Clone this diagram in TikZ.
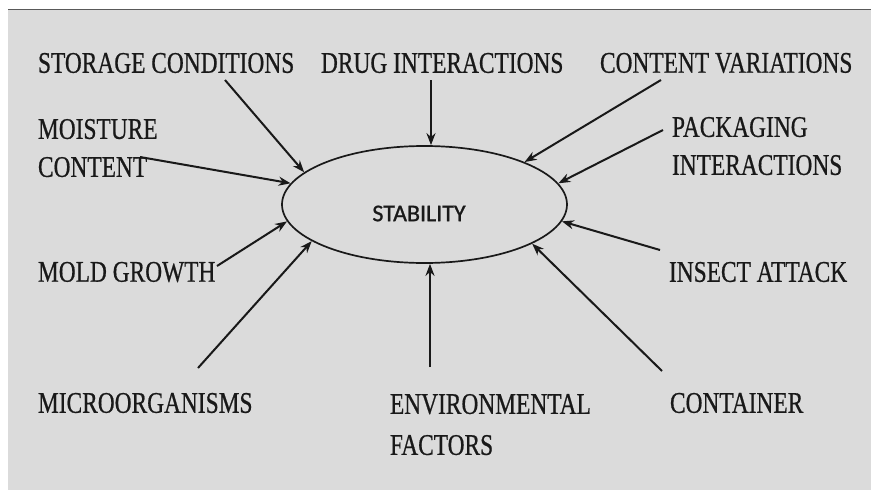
\documentclass[tikz,border=0pt]{standalone}
\usepackage{fontspec}
\setmainfont{Liberation Serif}[FakeStretch=0.78,FakeBold=0.6]
\newfontfamily\stabfont{Carlito}[FakeBold=1]
\usetikzlibrary{arrows.meta,shapes.geometric}
\definecolor{bggray}{RGB}{219,219,219}
\definecolor{inkgray}{RGB}{25,25,25}

\begin{document}
\begin{tikzpicture}[x=1pt,y=-1pt,->,>={Stealth[length=12pt,width=9pt]},line width=2pt,color=inkgray]
      \tikzstyle{factor}=[inner sep=0pt,text=inkgray,align=left,font=\fontsize{30}{38}\selectfont]
      \tikzstyle{centre}=[ellipse,draw,line width=1.7pt,minimum width=285pt,minimum height=117pt,inner sep=0pt]

      \useasboundingbox (0,0) rectangle (871,490);
      \fill[bggray] (8,9) rectangle (871,490);
      \draw[-,line width=1pt,gray!70!black] (8,9) -- (871,9);

      \node[centre] (stab) at (424.5,204.5) {};
      \node[inner sep=0pt,font=\stabfont\fontsize{24}{26}\selectfont] (stablbl) at (419,213.5) {STABILITY};

      \node[factor,anchor=west] (storage) at (37,63) {STORAGE CONDITIONS};
      \node[factor,anchor=west] (drug) at (320,63) {DRUG INTERACTIONS};
      \node[factor,anchor=west] (contvar) at (599,63) {CONTENT VARIATIONS};
      \node[factor,anchor=north west] (moisture) at (37,118) {MOISTURE\\CONTENT};
      \node[factor,anchor=north west] (packaging) at (671,116) {PACKAGING\\INTERACTIONS};
      \node[factor,anchor=west] (mold) at (37,272) {MOLD GROWTH};
      \node[factor,anchor=west] (insect) at (668,272) {INSECT ATTACK};
      \node[factor,anchor=west] (micro) at (37,403) {MICROORGANISMS};
      \node[factor,anchor=north west] (env) at (389,393) {ENVIRONMENTAL\\[3pt]FACTORS};
      \node[factor,anchor=west] (container) at (669,403) {CONTAINER};

      \coordinate (t-storage) at (225,80);
      \coordinate (t-moisture) at (140,157);
      \coordinate (t-drug) at (431,80);
      \coordinate (t-contvar) at (661,80);
      \coordinate (t-packaging) at (663,130);
      \coordinate (t-insect) at (660,250);
      \coordinate (t-mold) at (217,266);
      \coordinate (t-micro) at (198,368);
      \coordinate (t-env) at (430,367);
      \coordinate (t-container) at (662,371);

      \path (t-storage) edge (stab.165);
      \path (t-moisture) edge (stab.171);
      \path (t-drug) edge (t-drug |- stab.north);
      \path (t-contvar) edge (stab.23);
      \path (t-packaging) edge (stab.9);
      \path (t-insect) edge (stab.-7);
      \path (t-mold) edge (stab.187);
      \path (t-micro) edge (stab.198);
      \path (t-env) edge (t-env |- stab.south);
      \path (t-container) edge (stab.-20);
\end{tikzpicture}
\end{document}
